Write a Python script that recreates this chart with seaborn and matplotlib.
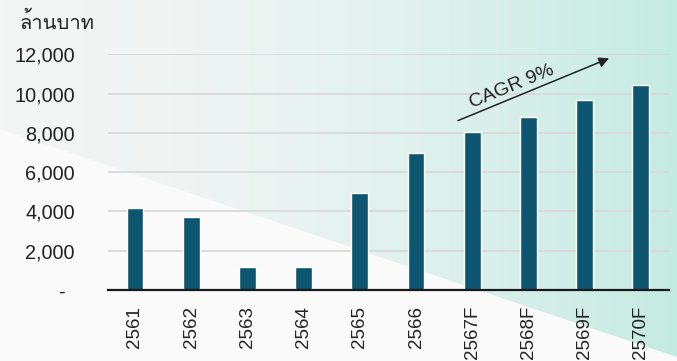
"""
Bar chart - revenue (million baht) by year, with CAGR arrow.
"""

import numpy as np
import matplotlib
matplotlib.use("Agg")
import matplotlib.pyplot as plt
import matplotlib.transforms as mtransforms
from matplotlib import font_manager
from matplotlib.ft2font import FT2Font
from matplotlib.colors import to_rgb
from matplotlib.patches import Polygon
import seaborn as sns

# Data
years = ['2561', '2562', '2563', '2564', '2565', '2566',
         '2567F', '2568F', '2569F', '2570F']
values = [4160, 3730, 1190, 1190, 4920, 6990, 8060, 8830, 9660, 10460]
y_ticks = [0, 2000, 4000, 6000, 8000, 10000, 12000]
y_tick_labels = ['-', '2,000', '4,000', '6,000', '8,000', '10,000', '12,000']
unit_label = 'ล้านบาท'
cagr_label = 'CAGR 9%'

BAR_COLOR = '#0e5670'
TEXT_COLOR = '#222222'

sns.set_theme(style='white')

# Find a font with Thai glyphs, fall back to Liberation Sans
def has_thai(path):
    try:
        return ord('ล') in FT2Font(path).get_charmap()
    except Exception:
        return False

thai_family = None
for f in font_manager.fontManager.ttflist:
    if has_thai(f.fname):
        thai_family = f.name
        break

families = ['Liberation Sans'] + ([thai_family] if thai_family else []) + ['DejaVu Sans']
plt.rcParams['font.family'] = families

W, H = 677, 361
fig = plt.figure(figsize=(W / 100, H / 100), dpi=100)

# Background: light teal wash with a white diagonal wedge at the bottom
bg = fig.add_axes([0, 0, 1, 1], zorder=-10)
bg.set_xlim(0, W)
bg.set_ylim(H, 0)
bg.axis('off')
xs = np.linspace(0, 1, 200)
left_c = np.array(to_rgb('#f4f5f5'))
right_c = np.array(to_rgb('#c4ebe2'))
row = left_c + (right_c - left_c) * (xs[:, None] ** 1.8)
img = np.repeat(row[None, :, :], 50, axis=0)
bg.imshow(img, extent=[0, W, H, 0], aspect='auto')
bg.add_patch(Polygon([[0, 129], [W, 357], [W, H], [0, H]],
                     closed=True, facecolor='#fafafa', edgecolor='none'))

ax = fig.add_axes([108 / W, 1 - 290 / H, (669 - 108) / W, (290 - 54.3) / H])
ax.patch.set_alpha(0)

sns.barplot(x=years, y=values, color=BAR_COLOR, width=0.30,
            saturation=1, ax=ax, zorder=3)

ax.set_xlim(-0.48, 9.5)
ax.set_ylim(0, 12000)
ax.set_yticks(y_ticks)
ax.set_yticklabels(y_tick_labels, fontsize=14.3, color=TEXT_COLOR)
ax.tick_params(axis='x', labelrotation=90, labelsize=13.5, colors=TEXT_COLOR, pad=11.5, length=0)
ax.tick_params(axis='y', length=0, pad=24)
ax.set_xlabel('')
ax.set_ylabel('')

# zero label sits a bit further left
zero_lbl = ax.get_yticklabels()[0]
zero_lbl.set_transform(zero_lbl.get_transform() +
                       mtransforms.ScaledTranslation(-0.10, 0, fig.dpi_scale_trans))

ax.grid(axis='y', color='#d9d9d9', linewidth=1.3, zorder=0)
for side in ['top', 'right', 'left']:
    ax.spines[side].set_visible(False)
ax.spines['bottom'].set_color('#1a1a1a')
ax.spines['bottom'].set_linewidth(1.6)
ax.spines['bottom'].set_zorder(4)

# CAGR arrow + label
ax.annotate('', xy=(8.48, 11850), xytext=(5.70, 8570),
            arrowprops=dict(arrowstyle='-|>', color=TEXT_COLOR, lw=1.1,
                            mutation_scale=15),
            annotation_clip=False, zorder=5)
ax.text(6.7, 10330, cagr_label, rotation=22.4, ha='center', va='center',
        fontsize=14, color=TEXT_COLOR, rotation_mode='anchor')

fig.text(20 / W, 1 - 22 / H, unit_label, fontsize=14.5, color=TEXT_COLOR,
         ha='left', va='center')

plt.savefig('out.png', dpi=100)
